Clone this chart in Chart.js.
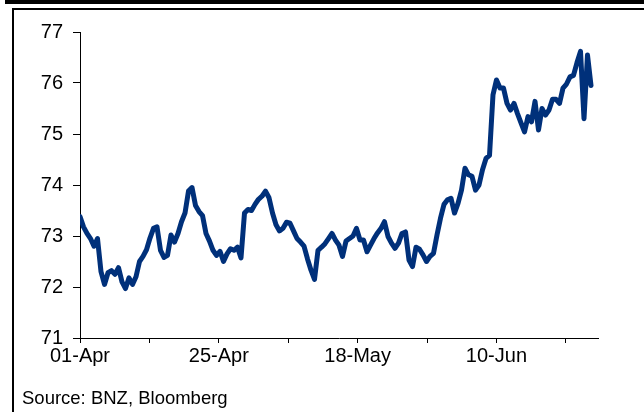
<!DOCTYPE html>
<html>
<head>
<meta charset="utf-8">
<script src="https://cdn.jsdelivr.net/npm/chart.js@4.4.1/dist/chart.umd.min.js"></script>
<style>
  body { margin: 0; background: #fff; width: 644px; height: 412px; overflow: hidden; position: relative; font-family: "Liberation Sans", Arial, sans-serif; }
  .topbar { position: absolute; left: 5px; top: 0; right: 0; height: 4px; background: #000; }
  .frame { position: absolute; left: 12px; top: 8px; right: 0; bottom: 0; border-left: 2px solid #000; border-top: 2px solid #000; }
  .wrap { position: absolute; left: 0; top: 0; width: 644px; height: 412px; }
  .source { position: absolute; left: 22px; top: 389px; font-size: 18.5px; line-height: 18px; color: #000; }
</style>
</head>
<body>
<div class="topbar"></div>
<div class="frame"></div>
<div class="wrap"><canvas id="fxChart"></canvas></div>
<div class="source">Source: BNZ, Bloomberg</div>
<script>
// x-axis tick labels (one tick every ~20 samples, label on every other)
const tickLabels = ["01-Apr", "", "25-Apr", "", "18-May", "", "10-Jun", ""];
const tickStep = 19.83;
const xMax = 148;

// index level
const values = [
  73.38, 73.18, 73.05, 72.95, 72.80, 72.95, 72.30, 72.05, 72.28, 72.32,
  72.25, 72.38, 72.10, 71.97, 72.18, 72.05, 72.20, 72.50, 72.60, 72.73,
  72.96, 73.15, 73.18, 72.72, 72.58, 72.62, 73.02, 72.88, 73.05, 73.28,
  73.45, 73.88, 73.95, 73.60, 73.48, 73.40, 73.05, 72.90, 72.72, 72.62,
  72.70, 72.50, 72.65, 72.75, 72.72, 72.78, 72.57, 73.45, 73.52, 73.50,
  73.62, 73.72, 73.78, 73.88, 73.75, 73.45, 73.22, 73.10, 73.15, 73.27,
  73.25, 73.10, 72.95, 72.88, 72.80, 72.55, 72.33, 72.15, 72.72, 72.78,
  72.85, 72.95, 73.05, 72.92, 72.82, 72.60, 72.90, 72.95, 73.00, 73.15,
  72.92, 72.92, 72.69, 72.82, 72.95, 73.06, 73.15, 73.28, 72.99, 72.86,
  72.76, 72.86, 73.05, 73.08, 72.53, 72.40, 72.78, 72.74, 72.63, 72.50,
  72.60, 72.66, 73.02, 73.35, 73.62, 73.71, 73.74, 73.45, 73.64, 73.90,
  74.33, 74.20, 74.17, 73.90, 74.00, 74.30, 74.52, 74.58, 75.77, 76.06,
  75.90, 75.90, 75.60, 75.47, 75.60, 75.40, 75.22, 75.04, 75.34, 75.24,
  75.64, 75.08, 75.50, 75.37, 75.47, 75.68, 75.68, 75.60, 75.90, 75.98,
  76.12, 76.15, 76.40, 76.62, 75.30, 76.55, 75.95
];

const points = values.map((v, i) => ({ x: i, y: v }));
const axisFont = { family: "'Liberation Sans', Arial, sans-serif", size: 20 };

const ctx = document.getElementById("fxChart").getContext("2d");
const fxChart = new Chart(ctx, {
  type: "line",
  data: {
    datasets: [
      {
        data: points,
        borderColor: "#00307a",
        borderWidth: 5,
        borderJoinStyle: "round",
        borderCapStyle: "round",
        pointRadius: 0,
        tension: 0,
        fill: false,
      },
    ],
  },
  options: {
    responsive: true,
    maintainAspectRatio: false,
    animation: false,
    layout: { padding: { left: 0, top: 32, right: 46, bottom: 34 } },
    plugins: { legend: { display: false }, tooltip: { enabled: false } },
    scales: {
      x: {
        type: "linear",
        min: 0,
        max: xMax,
        afterBuildTicks: (scale) => {
          scale.ticks = tickLabels.map((_, k) => ({ value: k * tickStep }));
        },
        afterFit: (scale) => { scale.height = 40; },
        ticks: {
          autoSkip: false,
          maxRotation: 0,
          padding: 1,
          color: "#000",
          font: axisFont,
          callback: (v, idx) => tickLabels[idx],
        },
        grid: { drawOnChartArea: false, tickLength: 5, color: "#000" },
        border: { display: true, color: "#000", width: 1 },
      },
      y: {
        min: 71,
        max: 77,
        afterFit: (scale) => { scale.width = 80; },
        ticks: { stepSize: 1, padding: 10, color: "#000", font: axisFont },
        grid: { drawOnChartArea: false, tickLength: 7, color: "#000" },
        border: { display: true, color: "#000", width: 1 },
      },
    },
  },
});
</script>
</body>
</html>
